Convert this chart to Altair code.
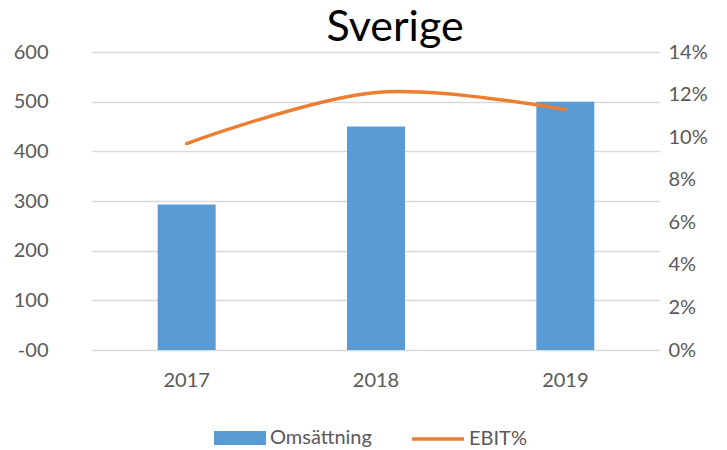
import altair as alt
import pandas as pd

years = ["2017", "2018", "2019"]
omsattning = [293, 450, 500]
ebit_pct = [0.097, 0.121, 0.113]

df = pd.DataFrame({
    "year": years,
    "oms": omsattning,
    "ebit": ebit_pct,
    "s1": ["Omsättning"] * 3,
    "s2": ["EBIT%"] * 3,
})

FONT = "Lato"
GRAY = "#595959"
FS = 20

x = alt.X("year:N", title=None,
          scale=alt.Scale(paddingInner=0, paddingOuter=0),
          axis=alt.Axis(labelAngle=0, domain=False, ticks=False, labelPadding=20,
                        labelFontSize=FS, labelColor=GRAY, labelFont=FONT))

bars = alt.Chart(df).mark_bar(size=58).encode(
    x=x,
    y=alt.Y("oms:Q", title=None,
            scale=alt.Scale(domain=[0, 600], nice=False),
            axis=alt.Axis(values=[0, 100, 200, 300, 400, 500, 600], domain=False, ticks=False,
                          labelPadding=44, labelFontSize=FS, labelColor=GRAY, labelFont=FONT,
                          labelExpr="datum.value == 0 ? '-00' : datum.label",
                          grid=True, gridColor="#d9d9d9", gridWidth=1.5)),
    color=alt.Color("s1:N", scale=alt.Scale(domain=["Omsättning"], range=["#5b9bd5"]),
                    legend=alt.Legend(title=None, orient="none", legendX=121, legendY=359,
                                      symbolType="M-1,-0.27H1V0.27H-1Z", symbolSize=2704,
                                      symbolOpacity=1, labelFontSize=FS, labelColor=GRAY,
                                      labelFont=FONT, labelOffset=3)),
)

line = alt.Chart(df).mark_line(interpolate="catmull-rom", strokeWidth=3.5, strokeCap="round").encode(
    x=x,
    y=alt.Y("ebit:Q", title=None,
            scale=alt.Scale(domain=[0, 0.14], nice=False),
            axis=alt.Axis(orient="right", format=".0%", values=[0, 0.02, 0.04, 0.06, 0.08, 0.10, 0.12, 0.14],
                          domain=False, ticks=False, grid=False, labelPadding=8,
                          labelFontSize=FS, labelColor=GRAY, labelFont=FONT)),
    stroke=alt.Stroke("s2:N", scale=alt.Scale(domain=["EBIT%"], range=["#ed7d31"]),
                      legend=alt.Legend(title=None, orient="none", legendX=318, legendY=359,
                                        symbolType="stroke", symbolSize=2704, symbolStrokeWidth=3.5,
                                        labelFontSize=FS, labelColor=GRAY, labelFont=FONT, labelOffset=3)),
)

chart = alt.layer(bars, line).resolve_scale(y="independent", color="independent").properties(
    width=568, height=298,
    title=alt.TitleParams("Sverige", fontSize=43, font=FONT, fontWeight="normal", color="#000000",
                          anchor="middle", dx=19, offset=-8),
    autosize=alt.AutoSizeParams(type="none"),
    padding={"left": 84, "top": 44, "right": 59, "bottom": 98},
).configure_view(stroke=None)

chart.save("out.html", embed_options={"renderer": "svg", "actions": False})
